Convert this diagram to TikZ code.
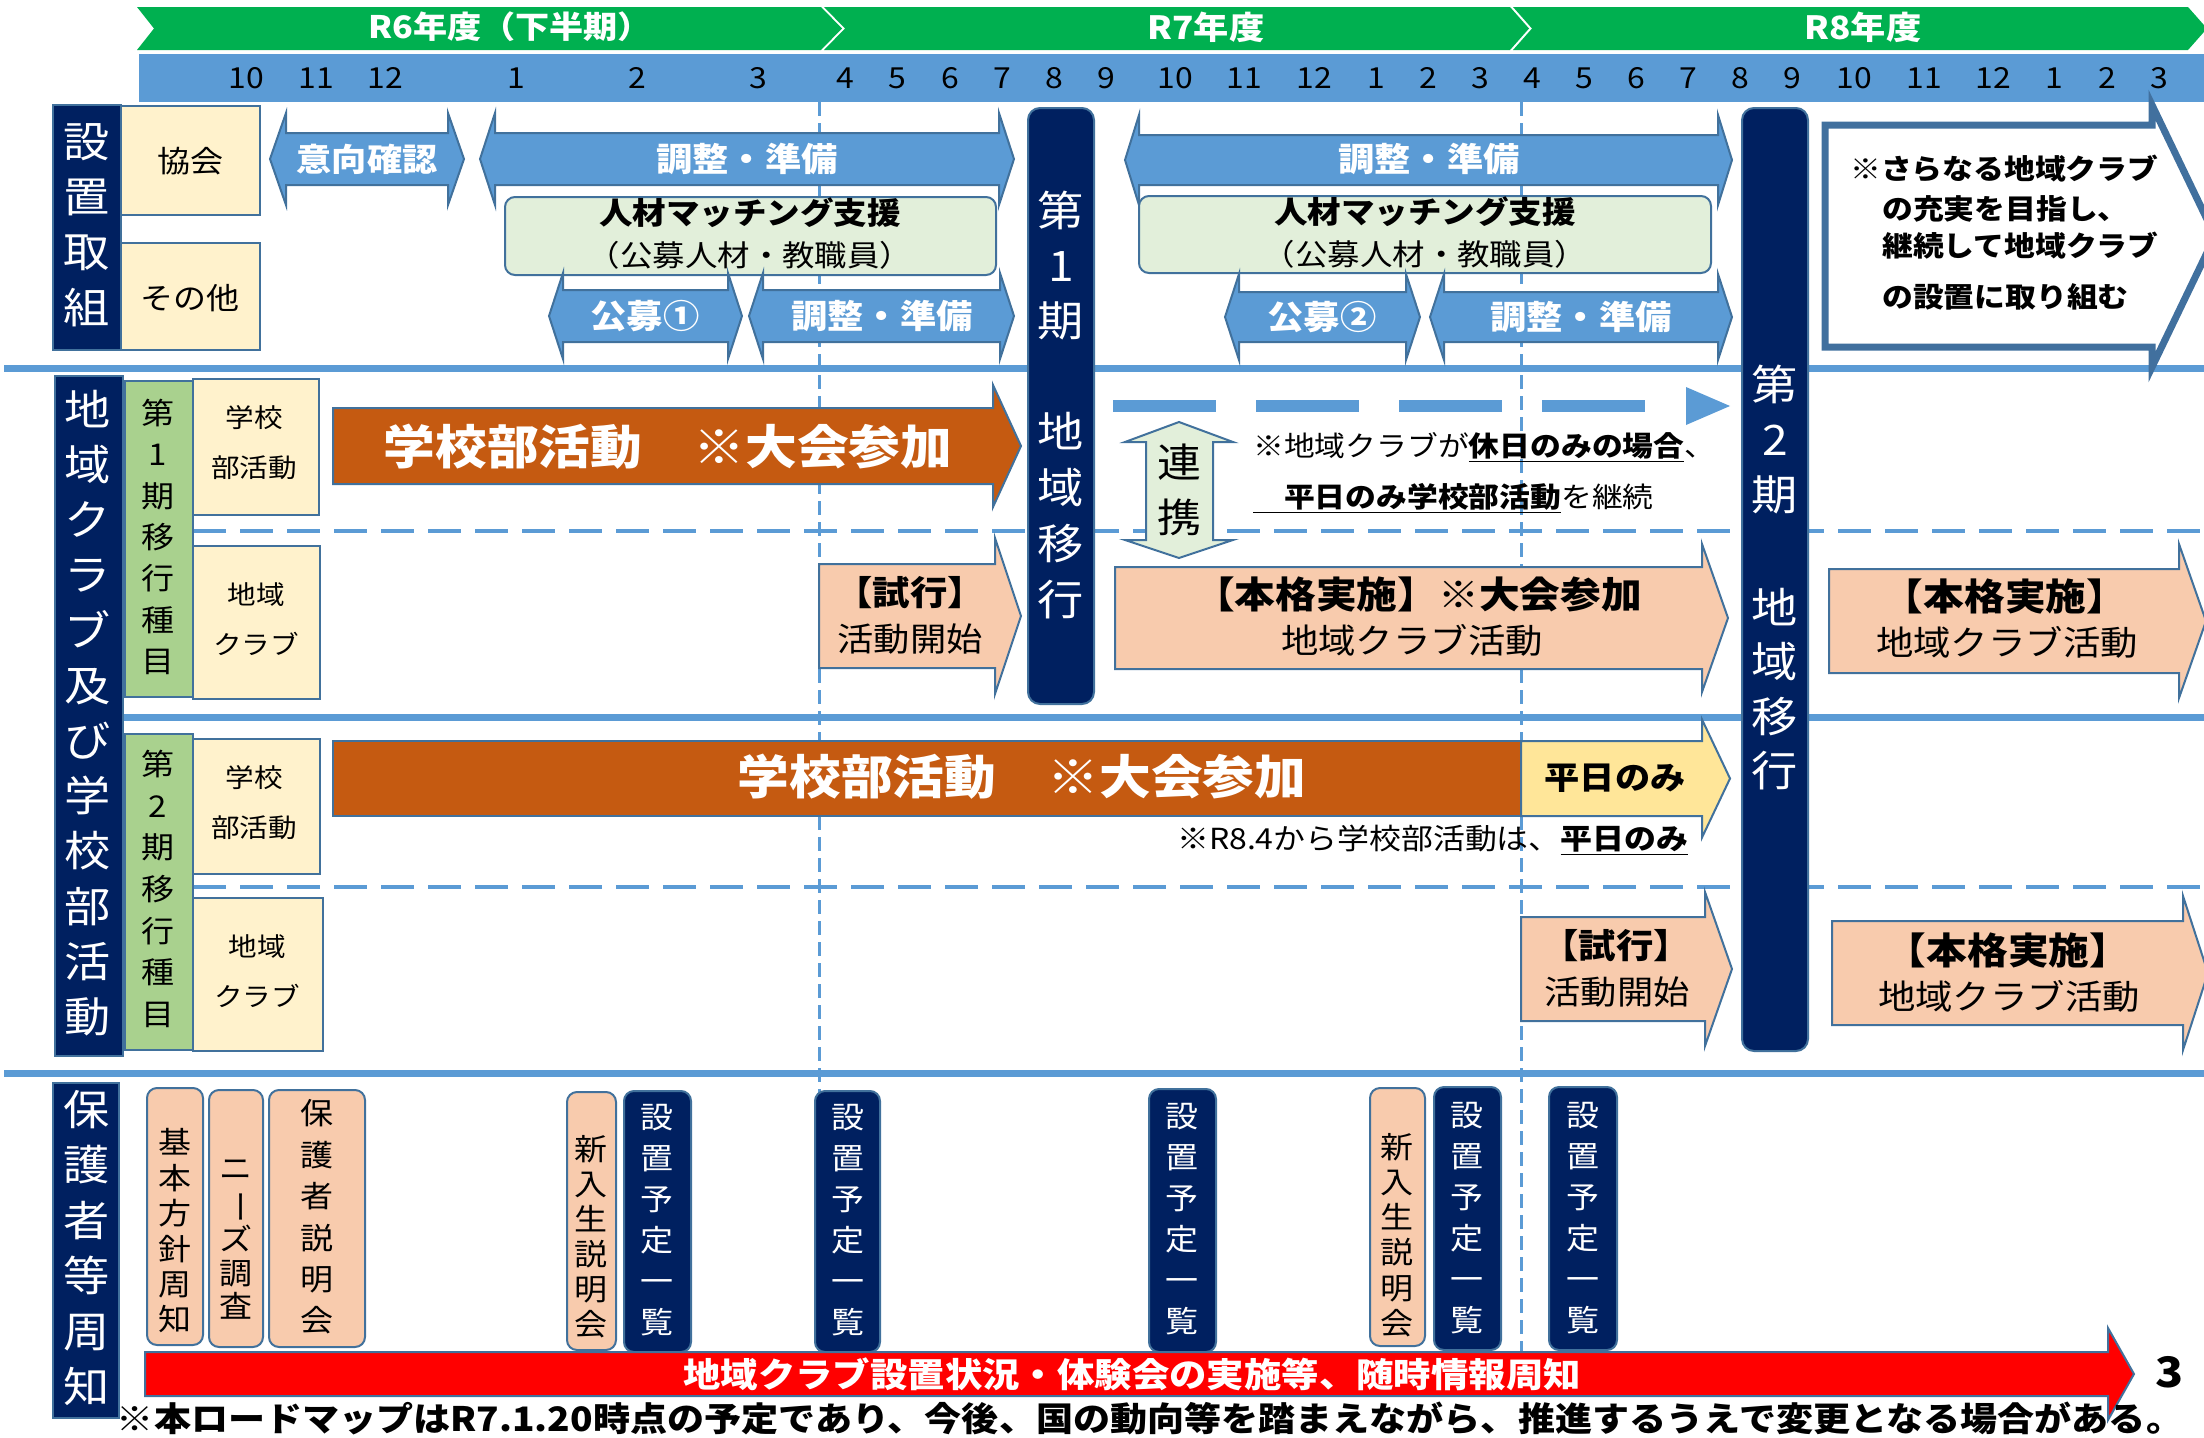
\documentclass[tikz,border=0pt]{standalone}
\usepackage{fontspec}
\usepackage{graphicx}
\setmainfont[FakeStretch=1.1]{Noto Sans CJK JP}
\definecolor{gbar}{HTML}{00B050}
\definecolor{mbar}{HTML}{5B9BD5}
\definecolor{navy}{HTML}{002060}
\definecolor{edge}{HTML}{41719C}
\definecolor{cream}{HTML}{FFF2CC}
\definecolor{lgreen}{HTML}{A9D18E}
\definecolor{peach}{HTML}{F8CBAD}
\definecolor{pale}{HTML}{E2EFDA}
\definecolor{yel}{HTML}{FFE699}
\definecolor{orng}{HTML}{C55A11}
\definecolor{pent}{HTML}{41709E}
\newcommand{\fsz}[2]{\fontsize{#1}{#2}\selectfont}
% style x0 x1 yc shafthalf headhalf headlen
\newcommand{\dbarrow}[7]{\draw[#1] (#2,#4) -- (#2+#7,#4-#6) -- (#2+#7,#4-#5) -- (#3-#7,#4-#5) -- (#3-#7,#4-#6) -- (#3,#4) -- (#3-#7,#4+#6) -- (#3-#7,#4+#5) -- (#2+#7,#4+#5) -- (#2+#7,#4+#6) -- cycle;}
\newcommand{\rtarrow}[7]{\draw[#1] (#2,#4-#5) -- (#3-#7,#4-#5) -- (#3-#7,#4-#6) -- (#3,#4) -- (#3-#7,#4+#6) -- (#3-#7,#4+#5) -- (#2,#4+#5) -- cycle;}
\begin{document}
\begin{tikzpicture}[x=1pt,y=-1pt,
  t/.style={inner sep=0pt, align=center},
  sep/.style={mbar, line width=7pt},
  hdash/.style={mbar, line width=4pt, dash pattern=on 33pt off 14pt},
  vdash/.style={mbar, line width=3pt, dash pattern=on 14pt off 7pt},
  dbl/.style={fill=mbar, draw=edge, line width=2pt},
  rarr/.style={draw=edge, line width=2pt},
  lbl/.style={fill=navy, draw=edge, line width=1.5pt},
  crm/.style={fill=cream, draw=edge, line width=2pt},
  grn/.style={fill=lgreen, draw=edge, line width=2pt},
  vbox/.style={draw=edge, line width=2pt, rounded corners=10pt},
  bar/.style={fill=navy, draw=edge, line width=2pt, rounded corners=12pt},
  wt/.style={t, text=white, font=\fsz{33}{33}\bfseries}
]
\useasboundingbox (0,0) rectangle (2204,1438);
\clip (0,0) rectangle (2204,1438);

% year banner
\fill[gbar] (137,7) -- (821,7) -- (842,28.5) -- (821,50) -- (137,50) -- (154,28.5) -- cycle;
\fill[gbar] (824,7) -- (1510,7) -- (1529,28.5) -- (1510,50) -- (824,50) -- (845,28.5) -- cycle;
\fill[gbar] (1513,7) -- (2188,7) -- (2207,28.5) -- (2188,50) -- (1513,50) -- (1532,28.5) -- cycle;
\node[t, text=white, font=\fsz{31}{31}\bfseries] (y6) at (510,27) {R6年度（下半期）};
\node[t, text=white, font=\fsz{32}{32}\bfseries] (y7) at (1206,27) {R7年度};
\node[t, text=white, font=\fsz{32}{32}\bfseries] (y8) at (1863,27) {R8年度};

% month bar
\fill[mbar] (139,54) rectangle (2204,102);
\foreach \x/\m [count=\i] in {246/10,316/11,385/12,516/1,637/2,758/3,845/4,897/5,950/6,1002/7,1054/8,1106/9,1175/10,1244/11,1314/12,1376/1,1428/2,1480/3,1532/4,1584/5,1636/6,1688/7,1740/8,1792/9,1854/10,1924/11,1993/12,2054/1,2107/2,2159/3}
  \node[t, font=\fsz{29}{29}] (m\i) at (\x,78) {\m};

% separators
\draw[sep] (4,368) -- (2204,368);
\draw[sep] (123,717) -- (2204,717);
\draw[sep] (4,1073) -- (2204,1073);
\draw[hdash] (193,531) -- (2204,531);
\draw[hdash] (193,887) -- (2204,887);
\draw[vdash] (819,102) -- (819,1353);
\draw[vdash] (1521,102) -- (1521,1353);

% left labels
\draw[lbl] (53,105) rectangle (121,350);
\node[t, text=white, font=\fsz{42}{55.3}] (l1) at (87,225) {設\\置\\取\\組};
\draw[crm] (121,106) rectangle (260,215);
\node[t, font=\fsz{30}{30}] (kyo) at (190,161) {協会};
\draw[crm] (121,243) rectangle (260,350);
\node[t, font=\fsz{30}{30}] (sono) at (190,298) {その他};

\draw[lbl] (55,376) rectangle (123,1056);
\node[t, text=white, font=\fsz{42}{55.2}] (l2) at (88,713) {地\\域\\ク\\ラ\\ブ\\及\\び\\学\\校\\部\\活\\動};
\draw[grn] (125,381) rectangle (193,697);
\node[t, font=\fsz{30}{41.3}] (g1) at (158,537) {第\\1\\期\\移\\行\\種\\目};
\draw[crm] (193,379) rectangle (319,515);
\node[t, font=\fsz{26}{50}] (c1) at (254,443) {学校\\部活動};
\draw[crm] (193,546) rectangle (320,699);
\node[t, font=\fsz{26}{50}] (c2) at (256,619) {地域\\クラブ};
\draw[grn] (125,734) rectangle (193,1050);
\node[t, font=\fsz{30}{41.7}] (g2) at (158,889) {第\\2\\期\\移\\行\\種\\目};
\draw[crm] (193,739) rectangle (320,874);
\node[t, font=\fsz{26}{50}] (c3) at (254,803) {学校\\部活動};
\draw[crm] (193,898) rectangle (323,1051);
\node[t, font=\fsz{26}{50}] (c4) at (257,971) {地域\\クラブ};

\draw[lbl] (53,1083) rectangle (119,1418);
\node[t, text=white, font=\fsz{42}{55.4}] (l3) at (87,1248) {保\\護\\者\\等\\周\\知};

% section 1
\dbarrow{dbl}{270}{464}{159}{26}{46}{16}
\node[wt, font=\fsz{32}{32}\bfseries] (iko) at (367,159) {意向確認};
\dbarrow{dbl}{480}{1014}{159}{26}{46}{15}
\node[wt] (cho1) at (747,159) {調整・準備};
\draw[fill=pale, draw=edge, line width=2pt, rounded corners=10pt] (505,197) rectangle (996,275);
\node[t, font=\fsz{30.5}{30}\bfseries] (jin1) at (750,213) {人材マッチング支援};
\node[t, font=\fsz{29.5}{29}] (jin1b) at (750,255) {（公募人材・教職員）};
\dbarrow{dbl}{549}{742}{316}{26}{43}{14}
\node[wt] (ko1) at (645,316) {公募①};
\dbarrow{dbl}{749}{1014}{316}{26}{43}{14}
\node[wt] (cho2) at (882,316) {調整・準備};

\dbarrow{dbl}{1125}{1732}{160}{25}{45}{14}
\node[wt] (cho3) at (1429,159) {調整・準備};
\draw[fill=pale, draw=edge, line width=2pt, rounded corners=10pt] (1139,196) rectangle (1711,273);
\node[t, font=\fsz{30.5}{30}\bfseries] (jin2) at (1425,212) {人材マッチング支援};
\node[t, font=\fsz{29.5}{29}] (jin2b) at (1425,254) {（公募人材・教職員）};
\dbarrow{dbl}{1225}{1420}{317}{25}{43}{14}
\node[wt] (ko2) at (1322,317) {公募②};
\dbarrow{dbl}{1430}{1732}{317}{25}{43}{14}
\node[wt] (cho4) at (1581,317) {調整・準備};

% pentagon note
\draw[fill=white, draw=pent, line width=7pt, line join=miter] (1825,125) -- (2152,125) -- (2152,105) -- (2215,236) -- (2152,367) -- (2152,347) -- (1825,347) -- cycle;
\node[t, anchor=west, font=\fsz{28}{28}\bfseries] (p1) at (1850,169) {※さらなる地域クラブ};
\node[t, anchor=west, font=\fsz{28}{28}\bfseries] (p2) at (1882,209) {の充実を目指し、};
\node[t, anchor=west, font=\fsz{28}{28}\bfseries] (p3) at (1882,246) {継続して地域クラブ};
\node[t, anchor=west, font=\fsz{28}{28}\bfseries] (p4) at (1882,297) {の設置に取り組む};

% section 2, period 1
\rtarrow{rarr, fill=orng}{333}{1021}{446}{38}{61}{28}
\node[t, text=white, font=\fsz{47}{47}\bfseries] (o1) at (668,447) {学校部活動　※大会参加};
\rtarrow{rarr, fill=peach}{819}{1021}{616}{52}{78}{26}
\node[t, font=\fsz{34}{34}\bfseries] (s1a) at (910,593) {【試行】};
\node[t, font=\fsz{33}{33}] (s1b) at (910,639) {活動開始};

\draw[mbar, line width=12pt, dash pattern=on 103pt off 40pt] (1113,406) -- (1649,406);
\fill[mbar] (1686,387) -- (1730,406) -- (1686,425) -- cycle;
\draw[fill=pale, draw=edge, line width=2pt] (1179,422) -- (1233,442) -- (1213,442) -- (1213,540) -- (1233,540) -- (1179,558) -- (1125,540) -- (1146,540) -- (1146,442) -- (1125,442) -- cycle;
\node[t, font=\fsz{40}{55}] (ren) at (1179,490) {連\\携};
\node[t, anchor=west, font=\fsz{28}{28}] (n1) at (1253,447) {※地域クラブが\underline{\textbf{休日のみの場合}}、};
\node[t, anchor=west, font=\fsz{28}{28}] (n2) at (1253,498) {\underline{　\textbf{平日のみ学校部活動}}を継続};

\rtarrow{rarr, fill=peach}{1115}{1728}{618}{51}{74}{26}
\node[t, font=\fsz{37}{37}\bfseries] (h1a) at (1418,594) {【本格実施】※大会参加};
\node[t, font=\fsz{34}{34}] (h1b) at (1412,640) {地域クラブ活動};
\rtarrow{rarr, fill=peach}{1829}{2206}{621}{52}{77}{27}
\node[t, font=\fsz{37}{37}\bfseries] (h2a) at (2005,596) {【本格実施】};
\node[t, font=\fsz{34}{34}] (h2b) at (2007,642) {地域クラブ活動};

% section 2, period 2
\draw[rarr, fill=orng] (333,741) rectangle (1521,816);
\node[t, text=white, font=\fsz{47}{47}\bfseries] (o2) at (1022,777) {学校部活動　※大会参加};
\rtarrow{rarr, fill=yel}{1521}{1730}{778.5}{37.5}{59}{28}
\node[t, font=\fsz{32}{32}\bfseries] (hei) at (1615,778) {平日のみ};
\node[t, anchor=west, font=\fsz{29}{29}] (n3) at (1177,840) {※R8.4から学校部活動は、\underline{\textbf{平日のみ}}};
\rtarrow{rarr, fill=peach}{1521}{1732}{969}{52}{77}{27}
\node[t, font=\fsz{34}{34}\bfseries] (s2a) at (1616,946) {【試行】};
\node[t, font=\fsz{33}{33}] (s2b) at (1617,992) {活動開始};
\rtarrow{rarr, fill=peach}{1832}{2208}{973}{52}{77}{25}
\node[t, font=\fsz{37}{37}\bfseries] (h3a) at (2008,950) {【本格実施】};
\node[t, font=\fsz{34}{34}] (h3b) at (2009,996) {地域クラブ活動};

% navy transition bars
\draw[bar] (1028,108) rectangle (1094,704);
\node[t, text=white, font=\fsz{42}{55}] (b1a) at (1061,266) {第\\1\\期};
\node[t, text=white, font=\fsz{42}{56}] (b1b) at (1061,516) {地\\域\\移\\行};
\draw[bar] (1742,108) rectangle (1808,1051);
\node[t, text=white, font=\fsz{42}{55}] (b2a) at (1775,440) {第\\2\\期};
\node[t, text=white, font=\fsz{42}{54.5}] (b2b) at (1775,689) {地\\域\\移\\行};

% section 3
\draw[vbox, fill=peach] (147,1088) rectangle (203,1345);
\node[t, font=\fsz{30}{35.4}] (v1) at (175,1231) {基\\本\\方\\針\\周\\知};
\draw[vbox, fill=peach] (209,1090) rectangle (263,1347);
\node[t, font=\fsz{30}{33.8}] (v2) at (236,1240) {ニ\\\rotatebox[origin=c]{-90}{ー}\\ズ\\調\\査};
\draw[vbox, fill=peach] (269,1090) rectangle (365,1347);
\node[t, font=\fsz{30}{41.4}] (v3) at (317,1217) {保\\護\\者\\説\\明\\会};
\draw[vbox, fill=peach] (567,1092) rectangle (616,1350);
\node[t, font=\fsz{30}{35}] (v4) at (591,1237) {新\\入\\生\\説\\明\\会};
\draw[vbox, fill=navy] (624,1091) rectangle (691,1352);
\node[t, text=white, font=\fsz{30}{41}] (v5) at (657,1220) {設\\置\\予\\定\\一\\覧};
\draw[vbox, fill=navy] (815,1091) rectangle (880,1352);
\node[t, text=white, font=\fsz{30}{41}] (v6) at (848,1220) {設\\置\\予\\定\\一\\覧};
\draw[vbox, fill=navy] (1149,1089) rectangle (1216,1352);
\node[t, text=white, font=\fsz{30}{41}] (v7) at (1182,1219) {設\\置\\予\\定\\一\\覧};
\draw[vbox, fill=peach] (1370,1088) rectangle (1425,1346);
\node[t, font=\fsz{30}{35.2}] (v8) at (1397,1235) {新\\入\\生\\説\\明\\会};
\draw[vbox, fill=navy] (1434,1087) rectangle (1501,1350);
\node[t, text=white, font=\fsz{30}{41}] (v9) at (1467,1218) {設\\置\\予\\定\\一\\覧};
\draw[vbox, fill=navy] (1549,1087) rectangle (1617,1350);
\node[t, text=white, font=\fsz{30}{41}] (v10) at (1583,1218) {設\\置\\予\\定\\一\\覧};

\rtarrow{rarr, fill=red}{145}{2134}{1374}{22}{46}{26}
\node[t, text=white, font=\fsz{34}{34}\bfseries] (info) at (1132,1374) {地域クラブ設置状況・体験会の実施等、随時情報周知};
\node[t, font=\fsz{42}{42}\bfseries] (pg) at (2170,1372) {3};
\node[t, font=\fsz{33.7}{34}\bfseries] (foot) at (1150,1418) {※本ロードマップはR7.1.20時点の予定であり、今後、国の動向等を踏まえながら、推進するうえで変更となる場合がある。};
\end{tikzpicture}
\end{document}
